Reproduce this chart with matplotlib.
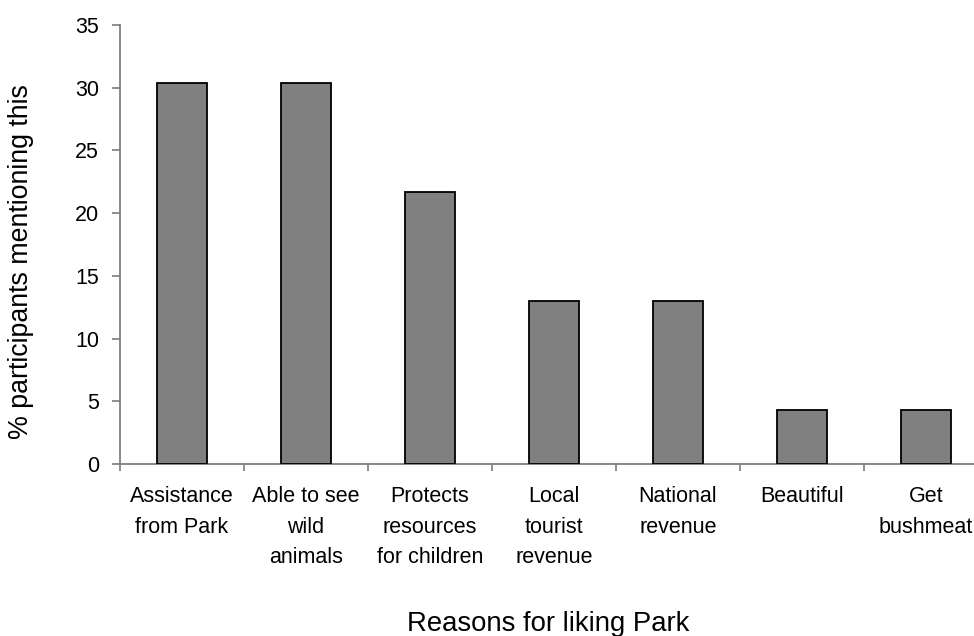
import matplotlib
matplotlib.use("Agg")
import matplotlib.pyplot as plt
import numpy as np

categories = [
    "Assistance\nfrom Park",
    "Able to see\nwild\nanimals",
    "Protects\nresources\nfor children",
    "Local\ntourist\nrevenue",
    "National\nrevenue",
    "Beautiful",
    "Get\nbushmeat",
]
percent_mentioning = [30.4, 30.4, 21.7, 13.0, 13.0, 4.3, 4.3]
y_ticks = [0, 5, 10, 15, 20, 25, 30, 35]

plt.rcParams["font.family"] = ["Liberation Sans", "DejaVu Sans"]

fig = plt.figure(figsize=(9.74, 6.36), dpi=100)
# plot area runs past the right edge of the figure
ax = fig.add_axes([120 / 974, 1 - 464 / 636, 868 / 974, 439 / 636])

x = np.arange(len(categories))
ax.bar(x, percent_mentioning, width=0.405, color="#808080",
       edgecolor="black", linewidth=1.3, zorder=3)

ax.set_xlim(-0.5, len(categories) - 0.5)
ax.set_ylim(0, 35)
ax.set_yticks(y_ticks)
ax.set_xticks(np.arange(len(categories) + 1) - 0.5, minor=False)
ax.set_xticklabels([])
ax.set_xticks(x, minor=True)
ax.set_xticklabels(categories, minor=True, fontsize=15.5, linespacing=1.6,
                   ha="center", va="top")
ax.tick_params(axis="x", which="minor", length=0, pad=16)
ax.tick_params(axis="x", which="major", length=5, width=1.1, color="#707070",
               direction="out")
ax.tick_params(axis="y", length=6, width=1.1, color="#707070", direction="out",
               labelsize=15.5, pad=9)

for side in ("top", "right"):
    ax.spines[side].set_visible(False)
for side in ("left", "bottom"):
    ax.spines[side].set_color("#808080")
    ax.spines[side].set_linewidth(1.3)

ax.set_ylabel("% participants mentioning this", fontsize=19.3)
ax.yaxis.set_label_coords(-0.099, 0.46)
ax.set_xlabel("Reasons for liking Park", fontsize=19.8)
ax.xaxis.set_label_coords(0.493, -0.395)
ax.xaxis.label.set_va("bottom")

fig.savefig("out.png", dpi=100, facecolor="white")
